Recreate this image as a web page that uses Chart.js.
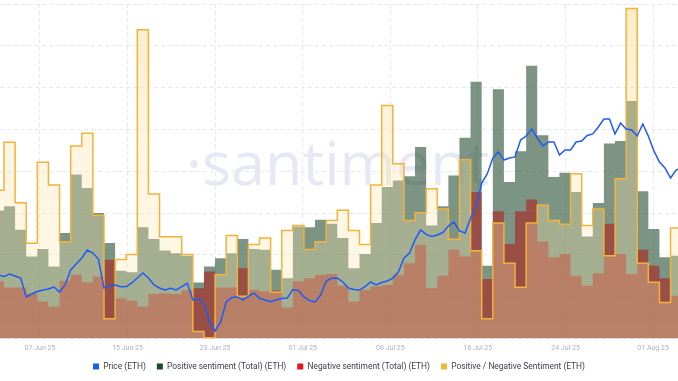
<!DOCTYPE html>
<html>
<head>
<meta charset="utf-8">
<script src="https://cdn.jsdelivr.net/npm/chart.js@4.4.1/dist/chart.umd.min.js"></script>
<style>
  html, body { margin: 0; padding: 0; background: #fff; }
  #wrap { width: 678px; height: 381px; }
</style>
</head>
<body>
<div id="wrap"><canvas id="chart" width="678" height="381"></canvas></div>
<script>
// daily bars, 03 Jun 25 .. 03 Aug 25
const positive = [153, 158, 130, 98, 107, 86, 126, 196, 180, 150, 114, 81, 79, 133, 119, 105, 102, 99, 67, 86,
  96, 102, 119, 107, 106, 82, 72, 134, 133, 142, 137, 120, 84, 101, 138, 181, 189, 194, 229, 135,
  158, 195, 240, 307, 87, 298, 187, 224, 326, 243, 193, 198, 175, 122, 162, 233, 236, 284, 176, 131,
  97, 99];
const negative = [68, 61, 61, 54, 44, 38, 69, 76, 67, 74, 94, 48, 45, 38, 53, 54, 53, 58, 60, 80,
  61, 61, 84, 58, 56, 57, 37, 68, 72, 76, 77, 63, 44, 58, 62, 64, 76, 90, 112, 60,
  75, 106, 98, 175, 71, 152, 113, 152, 166, 116, 97, 101, 75, 63, 78, 137, 101, 77, 106, 87,
  72, 51];
const ratio = [2.25, 2.63, 2.15, 1.83, 2.47, 2.29, 1.84, 2.60, 2.70, 2.05, 1.23, 1.70, 1.74, 3.52, 2.22, 1.88, 1.88, 1.74, 1.13, 1.08,
  1.58, 1.89, 1.41, 1.82, 1.87, 1.44, 1.93, 1.97, 1.78, 1.84, 2.01, 2.09, 1.93, 1.82, 2.29, 2.92, 2.46, 2.01, 2.07, 2.26,
  2.10, 1.86, 2.49, 1.77, 1.23, 1.99, 1.67, 1.48, 1.99, 2.13, 2.01, 1.98, 2.38, 1.97, 2.10, 1.73, 2.34, 3.69, 1.67, 1.52,
  1.36, 1.95];
// ETH price, twice a day
const price = [2604, 2592, 2613, 2596, 2579, 2421, 2446, 2467, 2479, 2487, 2504, 2462, 2521, 2646, 2696, 2746, 2813, 2788, 2738, 2496,
  2512, 2521, 2507, 2508, 2538, 2579, 2621, 2579, 2521, 2496, 2479, 2493, 2479, 2507, 2535, 2396, 2404, 2366, 2212, 2137,
  2212, 2379, 2416, 2421, 2396, 2425, 2454, 2410, 2396, 2381, 2396, 2408, 2412, 2483, 2475, 2421, 2391, 2379, 2437, 2554,
  2577, 2579, 2546, 2496, 2483, 2479, 2508, 2546, 2521, 2542, 2554, 2579, 2629, 2744, 2788, 2897, 2980, 2943, 2926, 2938,
  2959, 3013, 3047, 2972, 2955, 3080, 3180, 3372, 3448, 3581, 3631, 3564, 3581, 3590, 3731, 3765, 3823, 3748, 3681, 3715,
  3715, 3606, 3648, 3648, 3715, 3723, 3769, 3782, 3840, 3907, 3907, 3782, 3873, 3823, 3815, 3765, 3865, 3765, 3640, 3548,
  3498, 3414, 3481, 3498];
const tickLabels = ['07 Jun 25', '15 Jun 25', '23 Jun 25', '01 Jul 25', '08 Jul 25', '16 Jul 25', '24 Jul 25', '01 Aug 25'];
const tickPos = [3.24, 11.12, 19.0, 26.89, 34.78, 42.66, 50.55, 58.43];
const legendColors = ['#1a5cff', '#1d4a2a', '#e8141c', '#f5b82e'];

// bar i covers [i - 1, i] on the day axis
function steps(values) {
  const pts = values.map((v, i) => ({ x: i - 1, y: v }));
  pts.push({ x: values.length - 1, y: values[values.length - 1] });
  return pts;
}

const watermark = {
  id: 'watermark',
  beforeDatasetsDraw(chart) {
    const ctx = chart.ctx;
    ctx.save();
    ctx.fillStyle = '#e6e9f4';
    ctx.font = '61px "Open Sans"';
    ctx.textBaseline = 'alphabetic';
    ctx.fillText('·santiment', 186, 185);
    ctx.restore();
  }
};

// fixed legend height so the plot reaches down to the tick row
const legendBox = {
  id: 'legendBox',
  beforeLayout(chart) {
    const lg = chart.legend;
    if (lg && !lg._fixed) {
      const fit = lg.fit;
      lg.fit = function () { fit.call(this); this.height = 29.6; };
      lg._fixed = true;
    }
  }
};

new Chart(document.getElementById('chart').getContext('2d'), {
  type: 'line',
  data: {
    datasets: [{
      label: 'Price (ETH)',
      data: price.map((v, i) => ({ x: (i - 1) * 0.5, y: v })),
      yAxisID: 'yP',
      borderColor: '#1f5bf7',
      borderWidth: 1.5,
      pointRadius: 0,
      fill: false,
      order: 0
    }, {
      label: 'Positive sentiment (Total) (ETH)',
      data: steps(positive),
      yAxisID: 'yS',
      stepped: true,
      borderWidth: 0,
      borderColor: 'rgba(0,0,0,0)',
      backgroundColor: 'rgba(28,70,42,0.58)',
      pointRadius: 0,
      fill: 'start',
      order: 3
    }, {
      label: 'Negative sentiment (Total) (ETH)',
      data: steps(negative),
      yAxisID: 'yS',
      stepped: true,
      borderWidth: 0,
      borderColor: 'rgba(0,0,0,0)',
      backgroundColor: 'rgba(176,30,26,0.58)',
      pointRadius: 0,
      fill: 'start',
      order: 2
    }, {
      label: 'Positive / Negative Sentiment (ETH)',
      data: steps(ratio),
      yAxisID: 'yR',
      stepped: true,
      borderWidth: 1.5,
      borderColor: '#f3b23a',
      backgroundColor: function (c) {
        const area = c.chart.chartArea;
        if (!area) return 'rgba(252,230,171,0.32)';
        const g = c.chart.ctx.createLinearGradient(0, area.top, 0, area.bottom);
        g.addColorStop(0, 'rgba(250,208,120,0.42)');
        g.addColorStop(0.45, 'rgba(252,228,168,0.33)');
        g.addColorStop(1, 'rgba(252,232,176,0.32)');
        return g;
      },
      pointRadius: 0,
      fill: 'start',
      order: 1
    }]
  },
  options: {
    responsive: false,
    animation: false,
    devicePixelRatio: 1,
    layout: { padding: { top: 4, left: 0, right: 0, bottom: 0 } },
    plugins: {
      tooltip: { enabled: false },
      legend: {
        position: 'bottom',
        labels: {
          boxWidth: 6,
          boxHeight: 6,
          padding: 11,
          color: '#3d414d',
          font: { family: 'Roboto', size: 8.4 },
          generateLabels(chart) {
            return chart.data.datasets.map((ds, i) => ({
              text: ds.label,
              fillStyle: legendColors[i],
              strokeStyle: legendColors[i],
              lineWidth: 0,
              hidden: false,
              datasetIndex: i,
              fontColor: '#3d414d'
            }));
          }
        }
      }
    },
    scales: {
      x: {
        type: 'linear',
        min: -0.36,
        max: 60.67,
        afterBuildTicks(axis) {
          axis.ticks = tickPos.map(v => ({ value: v }));
        },
        afterFit(axis) {
          axis.height = 13;
        },
        ticks: {
          autoSkip: false,
          maxRotation: 0,
          padding: 6,
          color: '#a9b1c4',
          font: { family: 'Roboto', size: 7, lineHeight: 1 },
          callback: (v, i) => tickLabels[i]
        },
        grid: { color: '#e5e8ef', drawTicks: false },
        border: { display: false, dash: [4, 3] }
      },
      g: {
        position: 'left',
        min: 0,
        max: 8,
        ticks: { display: false, stepSize: 1 },
        grid: { color: '#e5e8ef', drawTicks: false },
        border: { display: false, dash: [4, 3] }
      },
      yS: { display: false, min: 0, max: 400 },
      yR: { display: false, min: 1.075, max: 3.725 },
      yP: { display: false, min: 2075, max: 4867 }
    }
  },
  plugins: [watermark, legendBox]
});
</script>
</body>
</html>
